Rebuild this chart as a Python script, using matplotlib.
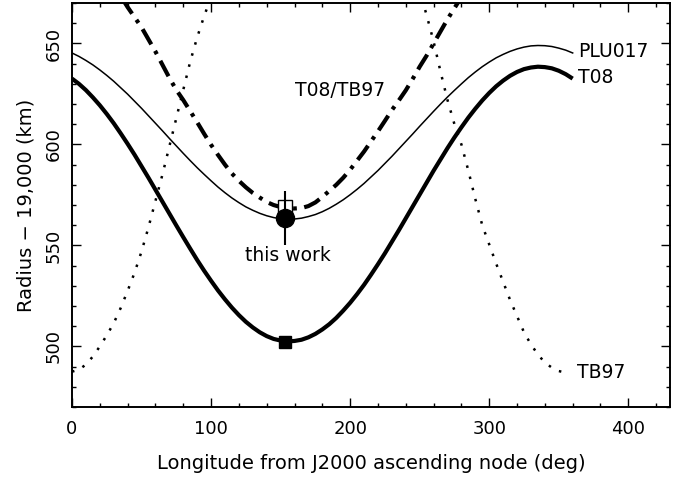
import numpy as np
import matplotlib.pyplot as plt

# longitudes (deg) for the two solid model curves
lon = list(range(0, 361, 5))

# T08 (thick solid)
r_t08 = [632.6, 630.0, 626.9, 623.3, 619.4, 615.1, 610.5, 605.5, 600.3, 594.9,
         589.2, 583.5, 577.6, 571.7, 565.8, 559.9, 554.1, 548.4, 542.8, 537.5,
         532.5, 527.7, 523.3, 519.2, 515.5, 512.2, 509.4, 507.0, 505.1, 503.7,
         502.9, 502.5, 502.7, 503.3, 504.5, 506.2, 508.4, 511.0, 514.1, 517.7,
         521.6, 525.9, 530.5, 535.5, 540.7, 546.1, 551.8, 557.5, 563.4, 569.3,
         575.2, 581.1, 587.0, 592.6, 598.2, 603.5, 608.5, 613.3, 617.7, 621.8,
         625.5, 628.8, 631.6, 634.0, 635.9, 637.3, 638.1, 638.5, 638.3, 637.7,
         636.5, 634.8, 632.6]

# PLU017 (thin solid)
r_plu = [645.3, 643.6, 641.6, 639.4, 636.9, 634.2, 631.3, 628.1, 624.9, 621.4,
         617.9, 614.2, 610.5, 606.8, 603.0, 599.3, 595.6, 592.0, 588.5, 585.2,
         582.0, 578.9, 576.1, 573.5, 571.2, 569.1, 567.4, 565.9, 564.7, 563.8,
         563.2, 563.0, 563.1, 563.5, 564.3, 565.3, 566.7, 568.4, 570.4, 572.6,
         575.1, 577.8, 580.7, 583.9, 587.1, 590.6, 594.1, 597.8, 601.5, 605.2,
         609.0, 612.7, 616.4, 620.0, 623.5, 626.8, 630.0, 633.1, 635.9, 638.5,
         640.8, 642.9, 644.6, 646.1, 647.3, 648.2, 648.8, 649.0, 648.9, 648.5,
         647.7, 646.7, 645.3]

# T08/TB97 (dash-dot)
lon_mix = list(range(30, 286, 5))
r_mix = [679, 673.5, 668, 663, 658, 652, 646, 639.5, 633, 627, 622, 616.5, 611,
         605.3, 599.8, 594.8, 590, 585.6, 582, 578.8, 576, 573.7, 571.5, 570, 569,
         568.5, 568.3, 568.5, 569.5, 571.3, 574, 577, 580, 583.5, 587.5, 592,
         596.5, 601.5, 606.5, 611.7, 617, 621.8, 626.8, 632.5, 638.5, 644, 650,
         656, 662, 667.5, 673, 679]

# TB97 (dotted), runs off the top of the plot between ~100 and ~250 deg
lon_tb = [0, 5, 10, 15, 20, 25, 30, 35, 40, 45, 50, 55, 60, 65, 70, 75, 80, 85, 90,
          95, 100, 250, 255, 260, 265, 270, 275, 280, 285, 290, 295, 300, 305, 310,
          315, 320, 325, 330, 335, 340, 345, 350, 355, 357]
r_tb = [487.5, 488.5, 491, 495, 500, 505.5, 511.5, 519, 527.5, 536.5, 547, 559, 572,
        585, 599, 613, 627, 641, 653, 663.5, 673, 676, 664, 651, 636, 622, 610,
        600, 587, 573, 560, 550.5, 541, 532, 523, 515, 507, 501, 496, 492, 489.5,
        487.8, 487, 487]

# measurements at lon ~153 deg
this_lon, this_r, this_err = 153.4, 563.7, 13.5
open_lon, open_r = 153.0, 569.0
t08_min_lon, t08_min_r = 153.0, 502.0

fig = plt.figure(figsize=(6.83, 4.82), dpi=100)
ax = fig.add_axes([0.1054, 0.1556, 0.8756, 0.838])

ax.plot(lon, r_t08, color='black', lw=3.0, solid_capstyle='butt')
ax.plot(lon, r_plu, color='black', lw=1.1)
ax.plot(lon_mix, r_mix, color='black', lw=3.0, dashes=(4.2, 1.8, 0.9, 1.8))
ax.plot(lon_tb, r_tb, color='black', lw=1.8, dashes=(1, 3.6))

ax.plot(t08_min_lon, t08_min_r, marker='s', ms=9, color='black', ls='none')
ax.plot(open_lon, open_r, marker='s', ms=10, mfc='white', mec='black', mew=1.0, ls='none')
ax.errorbar(this_lon, this_r, yerr=this_err, fmt='o', ms=13, color='black',
            elinewidth=1.5, capsize=0)

fs = 13.5
ax.text(155, 545, 'this work', ha='center', va='center', fontsize=fs)
ax.text(160, 626.5, 'T08/TB97', ha='left', va='center', fontsize=fs)
ax.text(364, 646, 'PLU017', ha='left', va='center', fontsize=fs)
ax.text(364, 633, 'T08', ha='left', va='center', fontsize=fs)
ax.text(363, 487, 'TB97', ha='left', va='center', fontsize=fs)

ax.set_xlim(0, 430)
ax.set_ylim(470, 670)
ax.set_xticks([0, 100, 200, 300, 400])
ax.set_xticks(np.arange(0, 430, 20), minor=True)
ax.set_yticks([500, 550, 600, 650])
ax.set_yticks(np.arange(470, 671, 10), minor=True)
ax.tick_params(which='both', direction='in', top=True, right=True, width=1.0,
               labelsize=13)
ax.tick_params(which='major', length=6.5)
ax.tick_params(which='minor', length=3.2)
ax.tick_params(axis='x', pad=9)
ax.tick_params(axis='y', pad=7)
for lab in ax.get_yticklabels():
    lab.set_rotation(90)
    lab.set_va('center')
for s in ax.spines.values():
    s.set_linewidth(1.4)

ax.set_xlabel('Longitude from J2000 ascending node (deg)', fontsize=14, labelpad=12)
ax.set_ylabel('Radius \u2212 19,000 (km)', fontsize=14, labelpad=6)

fig.savefig('out.png', dpi=100)
